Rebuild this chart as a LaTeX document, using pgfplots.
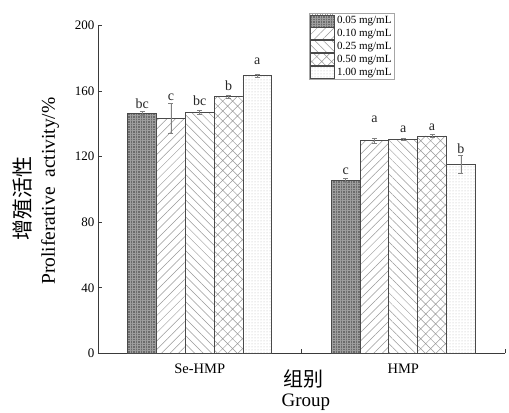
\documentclass[border=0pt]{standalone}
\usepackage{pgfplots}
\pgfplotsset{compat=1.18}
\usepackage{fontspec}
\setmainfont{Liberation Serif}
\newfontfamily\cjk{Noto Sans CJK SC}
\usetikzlibrary{patterns,patterns.meta}

\definecolor{edge}{HTML}{4A4A4A}
\definecolor{axcol}{HTML}{3A3A3A}

\pgfplotsset{
  mybar/.style={ybar, bar width=0.1414, bar shift=0, draw=edge, line width=0.8pt,
    legend image code/.code={\draw[##1] (0pt,-6pt) rectangle (24pt,6pt);},
    error bars/y dir=both, error bars/y explicit,
    error bars/error bar style={gray, line width=0.6pt},
    error bars/error mark options={rotate=90, mark size=2.5pt, gray, line width=0.6pt}},
}

\begin{document}
\begin{tikzpicture}
\begin{axis}[
  scale only axis, width=407pt, height=327.6pt,
  xmin=-0.5, xmax=1.5, ymin=0, ymax=200,
  axis x line=bottom, axis y line=left,
  axis line style={-, axcol, line width=0.8pt},
  xtick={0,1}, xticklabels={Se-HMP,HMP},
  minor xtick={0.5,1.5},
  major x tick style={draw=none},
  minor x tick style={axcol, line width=0.8pt},
  minor tick length=4pt,
  ytick={0,40,...,200}, major tick length=4pt, tick align=inside,
  y tick style={axcol, line width=0.8pt},
  /pgf/number format/assume math mode=true,
  xticklabel style={font=\fontsize{14.5}{15}\selectfont, anchor=base, yshift=-20pt},
  yticklabel style={font=\fontsize{13}{13}\selectfont},
  clip=false,
  legend style={at={(axis description cs:0.5184,1.0379)}, anchor=north west,
    draw=gray!70, line width=0.6pt, font=\fontsize{11}{12}\selectfont,
    inner sep=1pt, row sep=0pt, legend cell align=left},
]
% x = group position (0 = Se-HMP, 1 = HMP) + offset of the concentration
\addplot[mybar, fill=black!58,
  postaction={pattern={Hatch[angle=0,distance=2.5pt,line width=0.3pt]}, pattern color=black!38}]
  coordinates {(-0.2828,146.5) +- (0,1.0) (0.7172,105.6) +- (0,1.0)};
\addplot[mybar, fill=white,
  postaction={pattern={Lines[angle=45,distance=6pt,line width=0.5pt]}, pattern color=gray!80}]
  coordinates {(-0.1414,143.5) +- (0,9.1) (0.8586,129.8) +- (0,1.5)};
\addplot[mybar, fill=white,
  postaction={pattern={Lines[angle=-45,distance=6pt,line width=0.5pt]}, pattern color=gray!80}]
  coordinates {(0,147.1) +- (0,1.0) (1,130.8) +- (0,0.5)};
\addplot[mybar, fill=white,
  postaction={pattern={Hatch[angle=45,distance=7pt,line width=0.5pt]}, pattern color=gray!80}]
  coordinates {(0.1414,156.7) +- (0,1.0) (1.1414,132.7) +- (0,0.8)};
\addplot[mybar, fill=white,
  postaction={pattern={Dots[distance=3pt,radius=0.5pt]}, pattern color=gray!55}]
  coordinates {(0.2828,169.5) +- (0,1.0) (1.2828,115.4) +- (0,5.5)};
\legend{0.05 mg/mL,0.10 mg/mL,0.25 mg/mL,0.50 mg/mL,1.00 mg/mL}

\addplot[draw=none, mark=none, forget plot, nodes near coords,
  point meta=explicit symbolic,
  every node near coord/.append style={anchor=base, inner sep=0pt, font=\fontsize{14}{14}\selectfont, text=black!85}]
  coordinates {
  (-0.2828,149.6) [bc] (-0.1414,154.2) [c] (0,151.2) [bc] (0.1414,160.3) [b] (0.2828,176.6) [a]
  (0.7172,109.3) [c] (0.8586,141) [a] (1,134.9) [a] (1.1414,136) [a] (1.2828,121.7) [b]
  };

\node[rotate=90, anchor=base, font=\fontsize{19.5}{19.5}\selectfont] at (axis description cs:-0.1057,0.495) {Proliferative\hspace{0.5em}activity/\%};
\node[rotate=90, anchor=base, font=\cjk\fontsize{21}{21}\selectfont] at (axis description cs:-0.167,0.4725) {增殖活性};
\node[anchor=base, font=\cjk\fontsize{20}{20}\selectfont] at (axis description cs:0.506,-0.1) {组别};
\node[anchor=base, font=\fontsize{19}{19}\selectfont] at (axis description cs:0.511,-0.161) {Group};
\end{axis}
\pgfresetboundingbox
\path ([shift={(-98pt,-59.7pt)}]current axis.south west) rectangle ([shift={(4pt,25.7pt)}]current axis.north east);
\end{tikzpicture}
\end{document}
